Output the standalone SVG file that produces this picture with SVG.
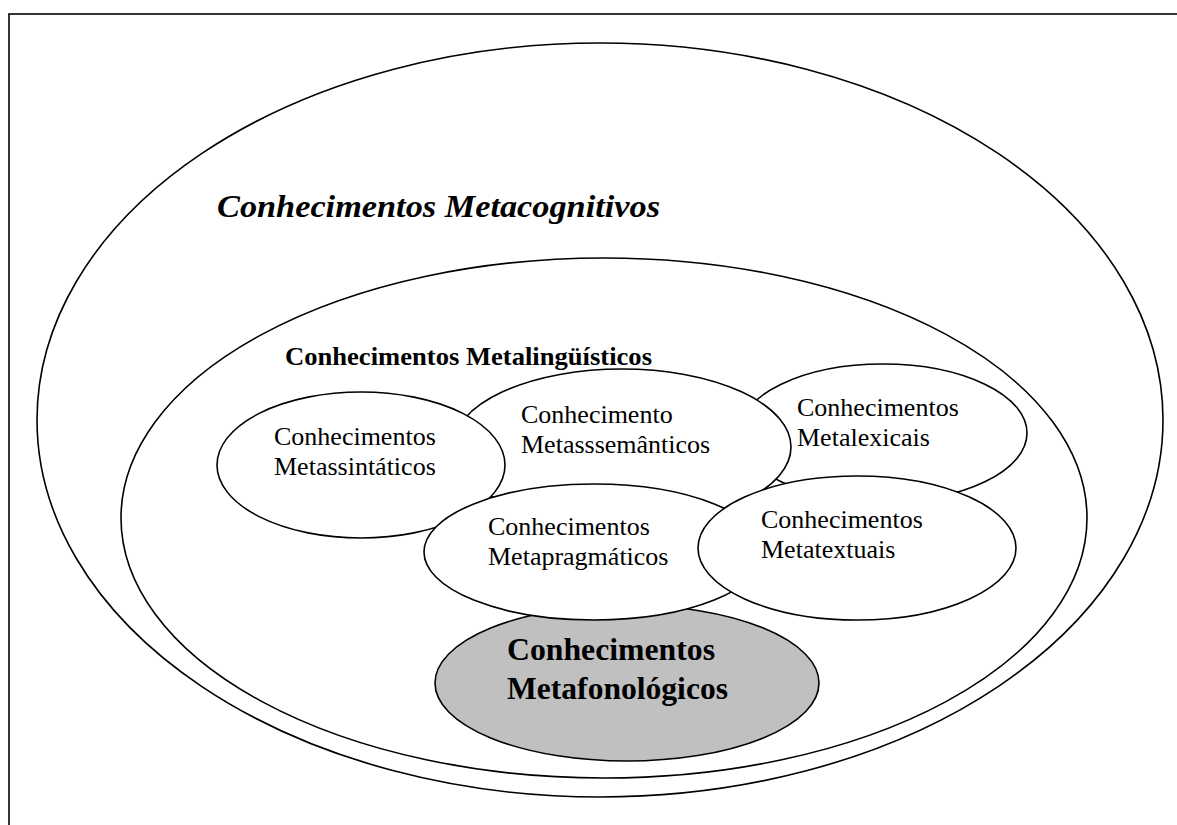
<svg xmlns="http://www.w3.org/2000/svg" width="1177" height="825" viewBox="0 0 1177 825">
<style>
.ov{fill:#ffffff;stroke:#000000;stroke-width:1.6}
.gray{fill:#c0c0c0;stroke:#000000;stroke-width:1.6}
.lbl{font-family:"Liberation Serif","Times New Roman",serif;font-size:26px;fill:#000000}
.bold{font-weight:bold}
.title{font-family:"Liberation Serif","Times New Roman",serif;font-size:32px;font-weight:bold;font-style:italic;fill:#000000}
</style>
<rect x="0" y="0" width="1177" height="825" fill="#ffffff"/>
<rect x="9" y="14" width="1200" height="900" fill="none" stroke="#222222" stroke-width="1.8"/>
<g id="metacognitivos">
<ellipse class="ov" cx="600" cy="420" rx="563" ry="377"/>
<text class="title" x="217" y="217" textLength="443" lengthAdjust="spacingAndGlyphs">Conhecimentos Metacognitivos</text>
</g>
<g id="metalinguisticos">
<ellipse class="ov" cx="604" cy="518" rx="483" ry="260"/>
<text class="lbl bold" x="285" y="365" textLength="367" lengthAdjust="spacingAndGlyphs">Conhecimentos Metalingüísticos</text>
</g>
<g id="metalexicais">
<ellipse class="ov" cx="883" cy="433" rx="144" ry="69"/>
<text class="lbl" x="797" y="416">Conhecimentos</text>
<text class="lbl" x="797" y="446">Metalexicais</text>
</g>
<g id="metassemanticos">
<ellipse class="ov" cx="622" cy="447" rx="169" ry="78"/>
<text class="lbl" x="521" y="423">Conhecimento</text>
<text class="lbl" x="521" y="453">Metasssemânticos</text>
</g>
<g id="metassintaticos">
<ellipse class="ov" cx="361" cy="465" rx="144" ry="73"/>
<text class="lbl" x="274" y="445">Conhecimentos</text>
<text class="lbl" x="274" y="475">Metassintáticos</text>
</g>
<g id="metafonologicos">
<ellipse class="gray" cx="627" cy="683" rx="192" ry="78"/>
<text class="lbl bold" x="507" y="660" style="font-size:31px" textLength="208" lengthAdjust="spacingAndGlyphs">Conhecimentos</text>
<text class="lbl bold" x="507" y="699" style="font-size:31px" textLength="221" lengthAdjust="spacingAndGlyphs">Metafonológicos</text>
</g>
<g id="metapragmaticos">
<ellipse class="ov" cx="594" cy="552" rx="170" ry="68"/>
<text class="lbl" x="488" y="535">Conhecimentos</text>
<text class="lbl" x="488" y="565">Metapragmáticos</text>
</g>
<g id="metatextuais">
<ellipse class="ov" cx="857" cy="548" rx="159" ry="72"/>
<text class="lbl" x="761" y="528">Conhecimentos</text>
<text class="lbl" x="761" y="558">Metatextuais</text>
</g>
<g id="connectors"></g>
</svg>
